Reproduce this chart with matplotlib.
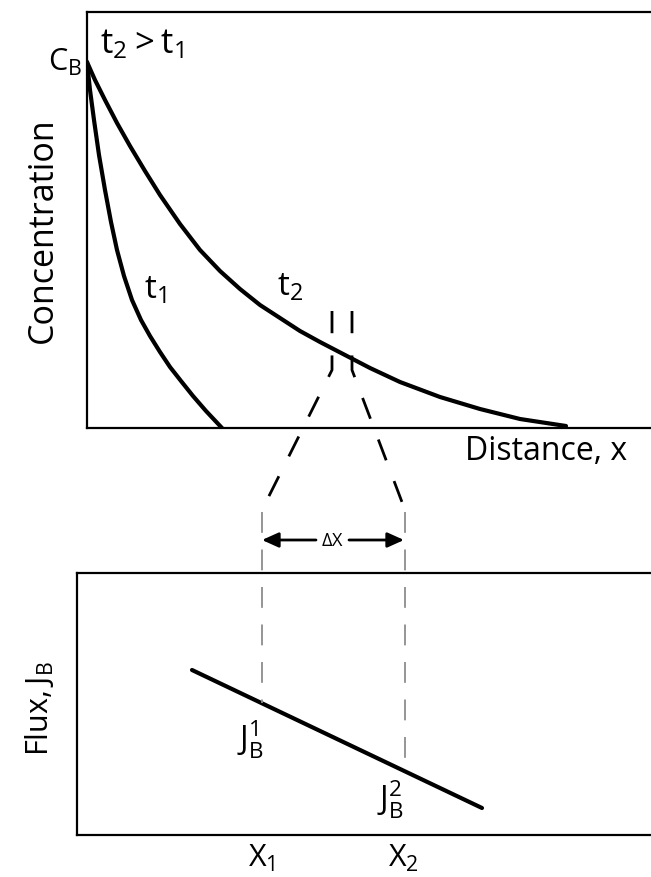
import matplotlib as mpl
mpl.rcParams['font.family'] = ['Open Sans', 'DejaVu Sans']
mpl.rcParams['mathtext.fontset'] = 'custom'
mpl.rcParams['mathtext.rm'] = 'Open Sans'
mpl.rcParams['lines.scale_dashes'] = False
import matplotlib.pyplot as plt

# ---------------------------------------------------------------
# concentration profiles (distance from surface, concentration)
dist_t1 = [0, 3, 7, 12, 18, 24, 30, 37, 45, 54, 63, 73, 83, 94, 106, 119, 135]
conc_t1 = [366, 338, 308, 273, 238, 206, 178, 152, 128, 108, 92, 76, 61, 47, 32, 17, 0]
dist_t2 = [0, 8, 18, 30, 43, 58, 73, 93, 113, 133, 153, 173, 193, 213, 233,
           258, 283, 313, 353, 393, 433, 479]
conc_t2 = [366, 348, 328, 305, 282, 257, 233, 204, 178, 157, 139, 123, 110, 97, 86,
           73, 60, 46, 31, 19, 9, 2]

# flux profile J_B(x)
dist_flux = [115, 405]
flux = [165, 27]
x_marks = [185, 326]
x_labels = [r'$\mathregular{X_1}$', r'$\mathregular{X_2}$']

# zoom guides, figure pixels
guide_l = ([332, 332, 262], [311, 370, 510])
guide_r = ([352, 352, 405], [311, 370, 510])
drop_l = ([262, 262], [512, 703])
drop_r = ([405, 405], [512, 772])

W, H = 651., 877.
fig = plt.figure(figsize=(6.51, 8.77), dpi=100, facecolor='w')

def box(l, t, r, b):
    return [l/W, 1-b/H, (r-l)/W, (b-t)/H]

# top panel : concentration
ax1 = fig.add_axes(box(87, 12, 660, 428))
ax1.plot(dist_t1, conc_t1, color='black', lw=3.0, solid_capstyle='round', solid_joinstyle='round')
ax1.plot(dist_t2, conc_t2, color='black', lw=3.0, solid_capstyle='round', solid_joinstyle='round')
ax1.set_xlim(0, 573)
ax1.set_ylim(0, 416)
ax1.set_xticks([])
ax1.set_yticks([])
ax1.spines['right'].set_visible(False)
for s in ['top', 'left', 'bottom']:
    ax1.spines[s].set_linewidth(1.6)
ax1.text(68, 138, r'$\mathregular{t_1}$', fontsize=24, ha='center', va='center')
ax1.text(203, 141, r'$\mathregular{t_2}$', fontsize=24, ha='center', va='center')
ax1.text(13, 384, r'$\mathregular{t_2 > t_1}$', fontsize=25, ha='left', va='center')

# bottom panel : flux
ax2 = fig.add_axes(box(77, 573, 660, 835))
ax2.plot(dist_flux, flux, color='black', lw=3.0, solid_capstyle='round')
ax2.set_xlim(0, 583)
ax2.set_ylim(0, 262)
ax2.set_xticks([])
ax2.set_yticks([])
ax2.spines['right'].set_visible(False)
for s in ['top', 'left', 'bottom']:
    ax2.spines[s].set_linewidth(1.6)
ax2.text(173, 95, r'$\mathregular{J_B^1}$', fontsize=23, ha='center', va='center')
ax2.text(313, 35, r'$\mathregular{J_B^2}$', fontsize=23, ha='center', va='center')

# overlay in pixel units for labels and guides
ax0 = fig.add_axes([0, 0, 1, 1], zorder=5)
ax0.set_xlim(0, W)
ax0.set_ylim(H, 0)
ax0.axis('off')
ax0.patch.set_alpha(0)

ax0.text(43, 230, 'Concentration', fontsize=24.5, rotation=90, ha='center', va='center')
ax0.text(546, 452, 'Distance, x', fontsize=23, ha='center', va='center')
ax0.text(40, 708, r'$\mathregular{Flux, J_B}$', fontsize=22, rotation=90, ha='center', va='center')
ax0.text(65, 62, r'$\mathregular{C_B}$', fontsize=22, ha='center', va='center')
for xm, lab in zip(x_marks, x_labels):
    ax0.text(xm + 77, 858, lab, fontsize=22, ha='center', va='center')

for g in (guide_l, guide_r):
    ax0.plot(g[0], g[1], color='black', lw=2.0, dashes=(16, 16))
for g in (drop_l, drop_r):
    ax0.plot(g[0], g[1], color='0.55', lw=1.3, dashes=(15, 12))

ax0.annotate('', xy=(262, 540), xytext=(316, 540),
             arrowprops=dict(arrowstyle='-|>,head_length=1.0,head_width=0.45',
                             color='black', lw=2.0, shrinkA=0, shrinkB=0))
ax0.annotate('', xy=(404, 540), xytext=(349, 540),
             arrowprops=dict(arrowstyle='-|>,head_length=1.0,head_width=0.45',
                             color='black', lw=2.0, shrinkA=0, shrinkB=0))
ax0.text(332, 541, r'$\mathregular{\Delta X}$', fontsize=13, ha='center', va='center')

plt.savefig('out.png', dpi=100)
